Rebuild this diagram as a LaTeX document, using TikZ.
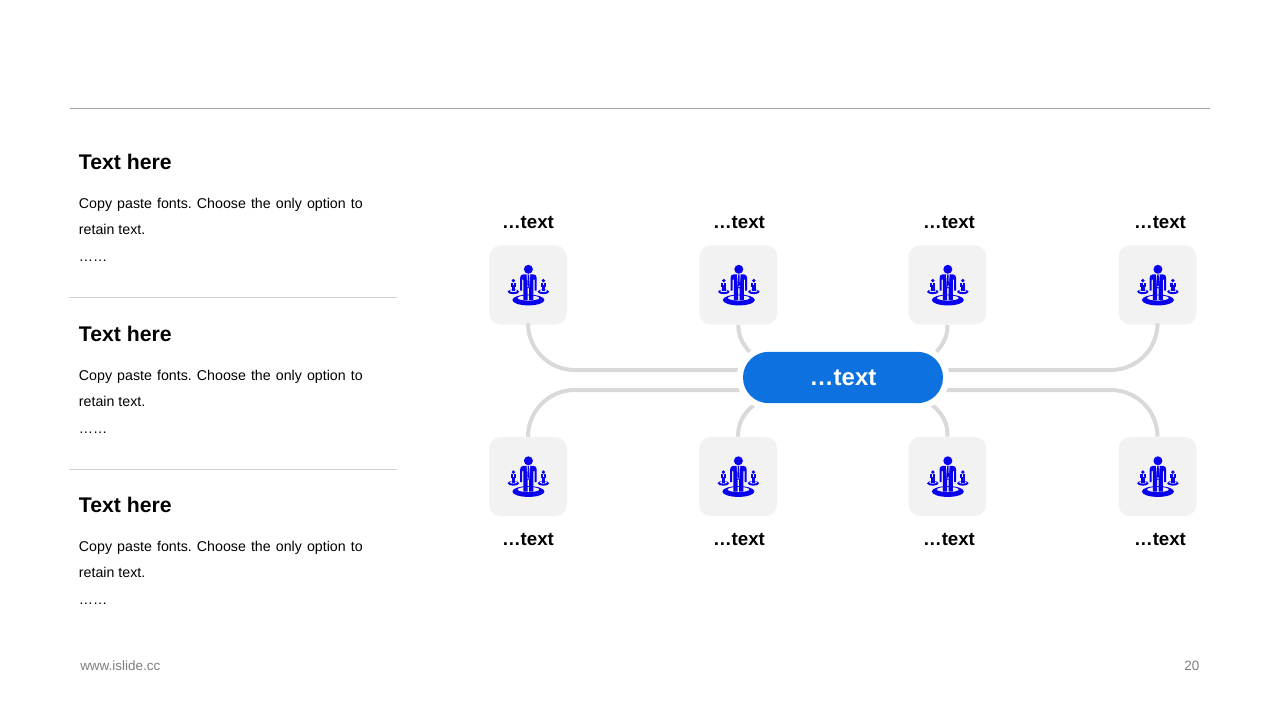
\documentclass[tikz,border=0pt]{standalone}
\usepackage{fontspec}
\setmainfont{Liberation Sans}
\definecolor{tilefill}{HTML}{F2F2F2}
\definecolor{conncol}{HTML}{D9D9D9}
\definecolor{pillblue}{HTML}{0E71E0}
\definecolor{iconblue}{HTML}{0A00F0}
\definecolor{rulecol}{HTML}{A6A6A6}
\definecolor{rulelight}{HTML}{D0D0D0}
\definecolor{footcol}{HTML}{7F7F7F}
\tikzset{
  x=0.75pt,y=-0.75pt,
  tile/.style={draw=none,fill=tilefill,rounded corners=9pt,minimum width=58.5pt,minimum height=59.5pt,inner sep=0pt},
  conn/.style={draw=conncol,line width=3pt},
  pill/.style={preaction={draw=white,line width=9.5pt},fill=pillblue,rounded corners=19.2pt,minimum width=150pt,minimum height=38.5pt,inner sep=0pt,text=white,font=\bfseries\fontsize{18}{20}\selectfont},
  capt/.style={font=\bfseries\fontsize{14}{16}\selectfont,inner sep=0pt,text=black},
  head/.style={font=\bfseries\fontsize{15.9}{18}\selectfont,anchor=base west,inner sep=0pt},
  body/.style={font=\fontsize{10.65}{12}\selectfont\frenchspacing,anchor=base west,inner sep=0pt},
  foot/.style={font=\fontsize{10.1}{12}\selectfont,inner sep=0pt,text=footcol},
  people/.pic={
    % side rings and figures
    \foreach \s in {-1,1}{
      \begin{scope}[shift={(\s*15,0)}]
        \fill[iconblue,even odd rule] (0,6.8) ellipse (5.8 and 2.3) (0,5.9) ellipse (4 and 1.2);
        \fill[iconblue] (0,-4.4) circle (1.9);
        \fill[iconblue] (-2.6,-2.2) rectangle (2.6,1.8);
        \fill[tilefill] (-0.4,-2.2) rectangle (0.4,0);
        \fill[iconblue] (-1.7,1.8) rectangle (1.7,6.4);
      \end{scope}
    }
    % central disc
    \fill[iconblue,even odd rule] (0,15) ellipse (16 and 5.4) (0,13) ellipse (11 and 2.6);
    % central figure
    \fill[iconblue] (0,-15.7) circle (4.5);
    \fill[iconblue] (-5,-10.7) -- (5,-10.7) .. controls (7.2,-10.7) and (8.3,-9) .. (8.3,-7) -- (8.3,5.5) -- (6.2,5.5) -- (6.2,-5.5) -- (5,-5.5) -- (5,15) -- (0.8,15) -- (0.8,3) -- (-0.8,3) -- (-0.8,15) -- (-5,15) -- (-5,-5.5) -- (-6.2,-5.5) -- (-6.2,5.5) -- (-8.3,5.5) -- (-8.3,-7) .. controls (-8.3,-9) and (-7.2,-10.7) .. (-5,-10.7) -- cycle;
    \fill[white] (-1.8,-10.7) -- (1.8,-10.7) -- (0.9,2) -- (-0.9,2) -- cycle;
    \fill[iconblue] (-0.8,-10.4) -- (0.8,-10.4) -- (1,0) -- (0,2) -- (-1,0) -- cycle;
  }
}
\begin{document}
\begin{tikzpicture}
\useasboundingbox (0,0) rectangle (1280,720);
\fill[white] (0,0) rectangle (1280,720);
\draw[rulecol,line width=0.75pt] (70,108.5) -- (1210,108.5);
\draw[rulelight,line width=0.75pt] (69,297.5) -- (397,297.5);
\draw[rulelight,line width=0.75pt] (69,469.5) -- (397,469.5);
\foreach \y/\n in {0/a,171.5/b,343/c}{
  \node[head] (h\n) at (78.7,168+1.7+\y) {Text here};
  \node[body] (p\n) at (78.7,208.5+\y) {\spaceskip=3.85pt Copy paste fonts. Choose the only option to};
  \node[body] (q\n) at (78.7,234.5+\y) {retain text.};
  \node[body] (r\n) at (78.7,261.5+\y) {……};
}
\node[foot,anchor=base west] (fl) at (80,670.5) {www.islide.cc};
\node[foot,anchor=base east] (fr) at (1199.5,670.5) {20};
\node[tile] (t1) at (528,285) {};
\node[tile] (t2) at (738.4,285) {};
\node[tile] (t3) at (947.4,285) {};
\node[tile] (t4) at (1157.5,285) {};
\node[tile] (t5) at (528,476.5) {};
\node[tile] (t6) at (738,476.5) {};
\node[tile] (t7) at (947.4,476.5) {};
\node[tile] (t8) at (1157.5,476.5) {};
\foreach \i in {1,...,8}{ \pic[xshift=0.3pt] at (t\i) {people}; }
\foreach \i/\d in {1/0,2/0.6,3/1.6,4/2.5}{ \node[capt,above=12.3pt,xshift=\d*0.75pt] (c\i) at (t\i.north) {…text}; }
\foreach \i/\d in {5/0,6/1,7/1.6,8/2.5}{ \node[capt,below=12.2pt,xshift=\d*0.75pt] (c\i) at (t\i.south) {…text}; }
\coordinate (pa) at (760,370);
\coordinate (pb) at (760,390);
\coordinate (pc) at (930,370);
\coordinate (pd) at (930,390);
\coordinate (pe) at (762,364);
\coordinate (pf) at (764,398);
\coordinate (pg) at (924,364);
\coordinate (ph) at (922,398);
\draw[conn,rounded corners=35pt] (t1.south) |- (pa);
\draw[conn,rounded corners=35pt] (t5.north) |- (pb);
\draw[conn,rounded corners=35pt] (t4.south) |- (pc);
\draw[conn,rounded corners=35pt] (t8.north) |- (pd);
\draw[conn] (t2.south) .. controls (738,342) and (749,352) .. (pe);
\draw[conn] (t6.north) .. controls (738,418) and (748,408) .. (pf);
\draw[conn] (t3.south) .. controls (948,342) and (937,352) .. (pg);
\draw[conn] (t7.north) .. controls (948,418) and (938,408) .. (ph);
\node[pill] (hub) at (843,377.5) {\raisebox{-1.4pt}{…text}};
\end{tikzpicture}
\end{document}
